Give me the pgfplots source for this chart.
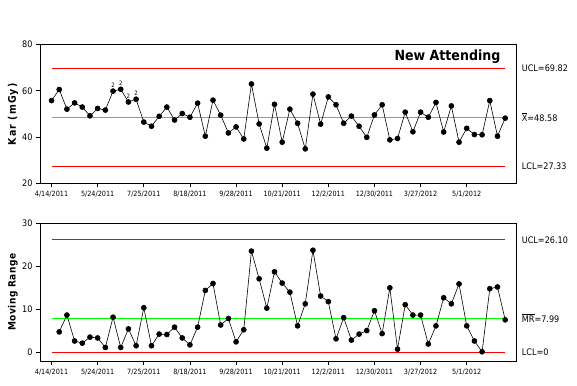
\documentclass[border=0pt]{standalone}
\usepackage{fontspec}
\setmainfont{DejaVu Sans Condensed}
\usepackage{pgfplots}
\pgfplotsset{compat=1.18}
\pgfplotstableread{
i x
1 55.8
2 60.6
3 52.1
4 54.8
5 53.0
6 49.2
7 52.4
8 51.7
9 59.9
10 60.7
11 55.2
12 56.4
13 46.5
14 44.7
15 49.0
16 53.0
17 47.4
18 50.2
19 48.6
20 54.7
21 40.4
22 56.0
23 49.5
24 41.8
25 44.4
26 39.2
27 63.0
28 45.7
29 35.2
30 54.2
31 37.8
32 52.1
33 46.0
34 34.9
35 58.6
36 45.6
37 57.4
38 54.0
39 46.0
40 49.1
41 44.7
42 39.9
43 49.6
44 54.0
45 38.8
46 39.4
47 50.8
48 42.3
49 50.8
50 48.6
51 55.0
52 42.2
53 53.5
54 37.8
55 43.8
56 41.1
57 41.0
58 55.8
59 40.4
60 48.2
}\xdata
\pgfplotstableread{
i mr
2 4.8
3 8.7
4 2.7
5 2.2
6 3.6
7 3.4
8 1.2
9 8.2
10 1.2
11 5.5
12 1.6
13 10.4
14 1.6
15 4.3
16 4.2
17 5.9
18 3.4
19 1.8
20 5.9
21 14.4
22 16.0
23 6.4
24 7.9
25 2.5
26 5.3
27 23.5
28 17.1
29 10.3
30 18.7
31 16.1
32 14.0
33 6.2
34 11.3
35 23.7
36 13.1
37 11.8
38 3.2
39 8.1
40 2.9
41 4.3
42 5.1
43 9.7
44 4.4
45 15.0
46 0.8
47 11.1
48 8.7
49 8.7
50 2.0
51 6.2
52 12.7
53 11.3
54 15.9
55 6.2
56 2.7
57 0.2
58 14.8
59 15.2
60 7.6
}\mrdata
\pgfplotsset{cc/.style={
  scale only axis, width=476.7pt, anchor=north west,
  xmin=-0.5, xmax=61.5,
  xtick={1,7,13,19,25,31,37,43,49,55},
  xticklabels={4/14/2011,5/24/2011,7/25/2011,8/18/2011,9/28/2011,10/21/2011,12/2/2011,12/30/2011,3/27/2012,5/1/2012},
  axis line style={line width=0.8pt},
  tick style={black, line width=0.8pt},
  tick align=outside, major tick length=4pt,
  xtick pos=bottom, ytick pos=left,
  x tick label style={font=\fontsize{7.2}{8}\selectfont},
  y tick label style={font=\fontsize{9}{10}\selectfont},
  /pgf/number format/assume math mode=true,
  ylabel style={at={(axis description cs:-0.0566,0.5)}, anchor=center},
  clip=false,
}}
\begin{document}
\begin{tikzpicture}
\path[use as bounding box] (0pt,0pt) rectangle (577pt,-385pt);
\begin{axis}[cc, at={(40pt,-44.7pt)}, height=138.6pt, ymin=20, ymax=80, ytick={20,40,60,80},
  ylabel={Kar (mGy\,)}, ylabel style={font=\bfseries\fontsize{10.5}{12}\selectfont\addfontfeature{LetterSpace=10}}]
\addplot[red, line width=0.9pt] coordinates {(1,69.82) (60,69.82)};
\addplot[red, line width=0.9pt] coordinates {(1,27.33) (60,27.33)};
\addplot[green, line width=0.9pt] coordinates {(1,48.58) (60,48.58)};
\addplot[black, line width=0.6pt, mark=*, mark size=2.5pt] table[x=i, y=x] {\xdata};
\addplot[only marks, mark=none, point meta=explicit symbolic, nodes near coords,
  every node near coord/.append style={anchor=center, yshift=6pt, font=\fontsize{6}{6}\selectfont}]
  coordinates {(9,59.9)[2] (10,60.7)[2] (11,55.2)[2] (12,56.4)[2]};
\node[anchor=base east, inner sep=0pt, font=\bfseries\fontsize{14}{15}\selectfont] at (axis cs:59.4,73.1) {New Attending};
\node[anchor=west, inner sep=0pt, xshift=5pt, font=\fontsize{9}{10}\selectfont] at (axis cs:61.5,69.82) {UCL=69.82};
\node[anchor=west, inner sep=0pt, xshift=5pt, font=\fontsize{9}{10}\selectfont] at (axis cs:61.5,48.58) {$\overline{\mbox{X}}$=48.58};
\node[anchor=west, inner sep=0pt, xshift=5pt, font=\fontsize{9}{10}\selectfont] at (axis cs:61.5,27.33) {LCL=27.33};
\end{axis}
\begin{axis}[cc, at={(40pt,-223pt)}, height=138.3pt, ymin=-2, ymax=30, ytick={0,10,20,30},
  ylabel={Moving Range}, ylabel style={font=\bfseries\fontsize{10}{12}\selectfont\addfontfeature{LetterSpace=5}}]
\addplot[red, line width=0.9pt] coordinates {(1,26.10) (60,26.10)};
\addplot[red, line width=0.9pt] coordinates {(1,0) (60,0)};
\addplot[green, line width=0.9pt] coordinates {(1,7.99) (60,7.99)};
\addplot[black, line width=0.6pt, mark=*, mark size=2.5pt] table[x=i, y=mr] {\mrdata};
\node[anchor=west, inner sep=0pt, xshift=5pt, font=\fontsize{9}{10}\selectfont] at (axis cs:61.5,26.10) {UCL=26.10};
\node[anchor=west, inner sep=0pt, xshift=5pt, font=\fontsize{9}{10}\selectfont] at (axis cs:61.5,7.99) {$\overline{\mbox{MR}}$=7.99};
\node[anchor=west, inner sep=0pt, xshift=5pt, font=\fontsize{9}{10}\selectfont] at (axis cs:61.5,0) {LCL=0};
\end{axis}
\end{tikzpicture}
\end{document}
